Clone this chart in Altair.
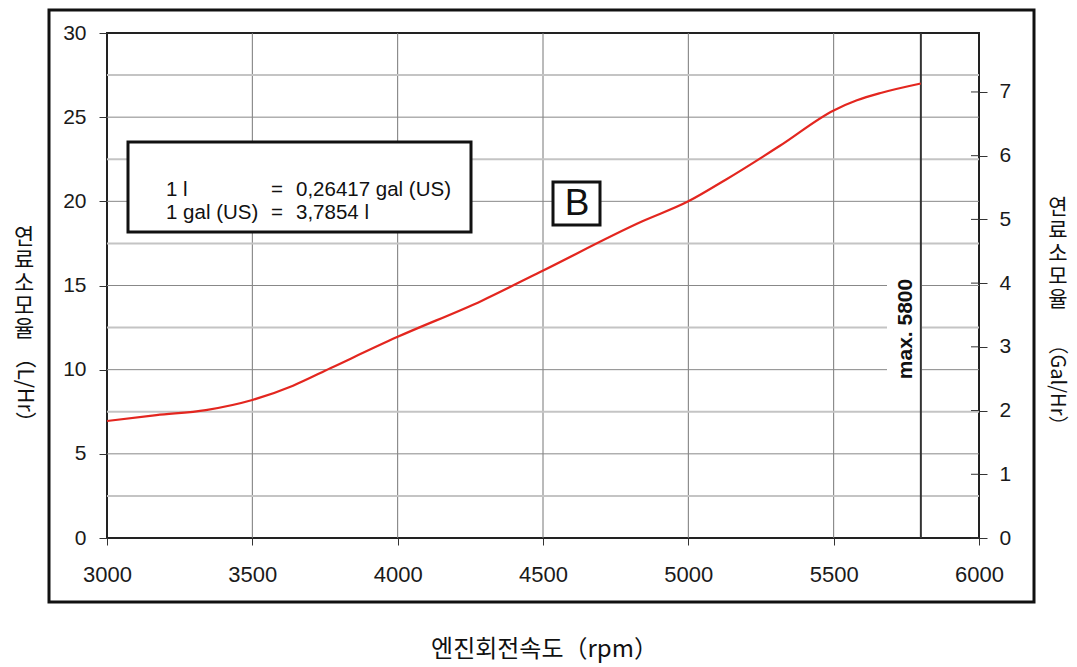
import altair as alt
import pandas as pd

# ---- data ----
rpm = [3000, 3170, 3340, 3500, 3640, 3770, 4000, 4290, 4490, 4840, 5000, 5130, 5315, 5500, 5580, 5665, 5800]
fuel_lph = [6.95, 7.3, 7.6, 8.2, 9.05, 10.1, 11.95, 14.1, 15.8, 18.8, 20.0, 21.3, 23.3, 25.4, 26.0, 26.45, 27.0]
x_ticks = [3000, 3500, 4000, 4500, 5000, 5500, 6000]
y_ticks = [0, 5, 10, 15, 20, 25, 30]
y_minor = [2.5, 7.5, 12.5, 17.5, 22.5, 27.5]
gal_ticks = [0, 1, 2, 3, 4, 5, 6, 7]
max_rpm = [5800]
L_PER_GAL = 3.7854

x_title = "엔진회전속도（rpm）"
title_ko = ["연", "료", "소", "모", "율"]
left_title_unit = "（L/Hr）"
right_title_unit = "（Gal/Hr）"
box_line1 = ["1 l", "=", "0,26417 gal (US)"]
box_line2 = ["1 gal (US)", "=", "3,7854 l"]
label_b = "B"
label_max = "max. 5800"

W, H = 872, 505
FONT = "Liberation Sans"
KFONT = "Noto Sans CJK KR"

xs = alt.Scale(domain=[3000, 6000], nice=False, zero=False)
ys = alt.Scale(domain=[0, 30], nice=False)
gs = alt.Scale(domain=[0, 30 / L_PER_GAL], nice=False)

x_axis = alt.Axis(values=x_ticks, format="d", tickSize=7, tickColor="#333", labelPadding=19,
                  labelFontSize=22, labelFont=FONT, labelColor="#1a1a1a", labelFlush=False,
                  domain=False, grid=False, title=x_title, titleFont=KFONT, titleFontSize=24,
                  titleFontWeight="normal", titleColor="#111", titleX=W / 2 + 1, titleY=111,
                  titleBaseline="middle", titleAlign="center")
y_axis = alt.Axis(values=y_ticks, format="d", tickSize=8, tickColor="#333", labelPadding=13,
                  labelFontSize=21, labelFont=FONT, labelColor="#1a1a1a", domain=False, grid=False,
                  title=None)
g_axis = alt.Axis(orient="right", values=gal_ticks, format="d", tickSize=8, tickColor="#333",
                  labelPadding=12, labelFontSize=21, labelFont=FONT, labelColor="#1a1a1a",
                  domain=False, grid=False, title=None)

one = pd.DataFrame({"a": [0]})


def label(text, x, y, size, font=FONT, angle=0, weight="normal", align="center", baseline="middle"):
    return alt.Chart(one).mark_text(font=font, fontSize=size, fontWeight=weight, angle=angle,
                                    align=align, baseline=baseline, color="#111").encode(
        x=alt.value(x), y=alt.value(y), text=alt.value(text))


grid_v = alt.Chart(pd.DataFrame({"x": x_ticks[1:-1]})).mark_rule(color="#777", strokeWidth=1).encode(
    x=alt.X("x:Q", scale=xs, axis=x_axis))
grid_major = alt.Chart(pd.DataFrame({"y": y_ticks[1:-1]})).mark_rule(color="#888", strokeWidth=1).encode(
    y=alt.Y("y:Q", scale=ys, axis=y_axis))
grid_minor = alt.Chart(pd.DataFrame({"y": y_minor})).mark_rule(color="#c4c4c4", strokeWidth=2).encode(
    y=alt.Y("y:Q", scale=ys, axis=y_axis))

# white patch behind the "max. 5800" label
label_bg = alt.Chart(one).mark_rect(fill="white").encode(
    x=alt.value(780), x2=alt.value(815), y=alt.value(242), y2=alt.value(350))
max_rule = alt.Chart(pd.DataFrame({"x": max_rpm})).mark_rule(color="#333", strokeWidth=2).encode(
    x=alt.X("x:Q", scale=xs, axis=x_axis))
max_text = label(label_max, 799, 296, 21, angle=270, weight="bold")

curve = alt.Chart(pd.DataFrame({"rpm": rpm, "lph": fuel_lph})).mark_line(
    color="#e3261f", strokeWidth=2.2, interpolate="monotone").encode(
    x=alt.X("rpm:Q", scale=xs, axis=x_axis),
    y=alt.Y("lph:Q", scale=ys, axis=y_axis))

# conversion box
box = alt.Chart(one).mark_rect(fill="white", stroke="#111", strokeWidth=3).encode(
    x=alt.value(21), x2=alt.value(364), y=alt.value(109), y2=alt.value(199))
box_texts = []
for xpx, t1, t2 in zip([59, 164, 189], box_line1, box_line2):
    box_texts.append(label(t1, xpx, 157, 20.5, align="left"))
    box_texts.append(label(t2, xpx, 180, 20.5, align="left"))

b_box = alt.Chart(one).mark_rect(fill="white", stroke="#111", strokeWidth=3).encode(
    x=alt.value(446), x2=alt.value(493), y=alt.value(149), y2=alt.value(192))
b_text = label(label_b, 470, 171, 37)

# outer frame
frame = alt.Chart(one).mark_rect(fill=None, stroke="#111", strokeWidth=3).encode(
    x=alt.value(-58), x2=alt.value(927), y=alt.value(-23), y2=alt.value(569))

# vertical axis titles: Korean glyphs upright and stacked, unit rotated
titles = []
for i, ch in enumerate(title_ko):
    titles.append(label(ch, -83, 204 + 23 * i, 22, font=KFONT))
    titles.append(label(ch, 951, 175 + 23 * i, 21, font=KFONT))
titles.append(label(left_title_unit, -83, 357, 21, font=KFONT, angle=90))
titles.append(label(right_title_unit, 950, 352, 20, font=KFONT, angle=90))

left_group = alt.layer(grid_v, grid_major, grid_minor, label_bg, max_rule, curve, box, *box_texts,
                       b_box, b_text, max_text, frame, *titles)

gal_inner = alt.Chart(pd.DataFrame({"g": gal_ticks})).mark_rule(color="#333", strokeWidth=1).encode(
    y=alt.Y("g:Q", scale=gs, axis=g_axis),
    x=alt.value(W - 8), x2=alt.value(W))

chart = alt.layer(left_group, gal_inner).resolve_scale(y="independent").properties(
    width=W, height=H,
    autosize=alt.AutoSizeParams(type="none"),
    padding={"left": 99, "top": 25, "right": 90, "bottom": 125},
    background="white",
).configure_view(stroke="#222", strokeWidth=2)

chart.save("out.html", embed_options={"renderer": "svg", "actions": False})
